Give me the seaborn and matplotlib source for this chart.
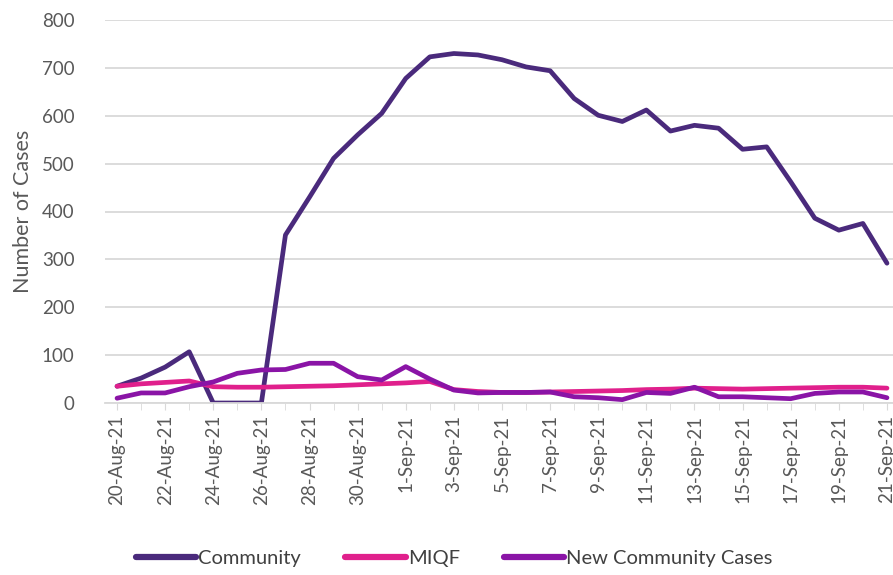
import pandas as pd
import numpy as np
import matplotlib.pyplot as plt
import seaborn as sns

sns.set_style("white")
plt.rcParams['font.family'] = ['Lato', 'DejaVu Sans']

# Data, one value per day 20-Aug-21 .. 21-Sep-21
dates = pd.date_range("2021-08-20", "2021-09-21", freq="D")
community = [35, 52, 75, 107, 0, 0, 0, 351, 430, 511, 560, 605, 678, 723, 730, 727,
             717, 702, 694, 636, 601, 588, 612, 568, 580, 574, 530, 535, 462, 386,
             361, 375, 292]
miqf = [35, 40, 43, 46, 34, 33, 33, 34, 35, 36, 38, 40, 42, 45, 28, 24,
        22, 22, 23, 24, 25, 26, 28, 29, 31, 30, 29, 30, 31, 32, 33, 33, 31]
new_community = [10, 21, 21, 34, 44, 62, 69, 70, 83, 83, 55, 48, 76, 50, 27, 21,
                 22, 22, 23, 13, 11, 7, 22, 20, 33, 13, 13, 11, 9, 20, 23, 23, 11]

series_names = ["Community", "MIQF", "New Community Cases"]
colors = ["#4a2a7c", "#e0208c", "#8a14a6"]

df = pd.DataFrame({
    "day": list(range(len(dates))) * 3,
    "cases": community + miqf + new_community,
    "series": [s for s in series_names for _ in range(len(dates))],
})

fig = plt.figure(figsize=(8.93, 5.75), dpi=100)
ax = fig.add_axes([105 / 893, 172 / 575, 794 / 893, 383 / 575])

sns.lineplot(data=df, x="day", y="cases", hue="series", palette=colors,
             linewidth=3.4, ax=ax)

ax.set_ylim(0, 800)
ax.set_xlim(-0.5, len(dates) - 0.5)
ax.set_yticks(range(0, 801, 100))
ax.yaxis.grid(True, color="#d9d9d9", linewidth=1.3)
ax.set_axisbelow(True)
for side in ["top", "right", "left"]:
    ax.spines[side].set_visible(False)
ax.spines["bottom"].set_color("#d9d9d9")
ax.spines["bottom"].set_linewidth(1.3)

ax.set_xticks(range(len(dates)), minor=True)
ax.set_xticks(range(0, len(dates), 2))
ax.set_xticklabels([f"{d.day}-{d.strftime('%b-%y')}" for d in dates[::2]],
                   rotation=90, fontsize=13.5, color="#595959")
ax.tick_params(axis="x", which="both", length=5, color="#d9d9d9", bottom=True)
ax.tick_params(axis="y", labelsize=13.5, labelcolor="#595959", length=0, pad=22)

ax.set_xlabel("")
ax.set_ylabel("Number of Cases", fontsize=15.5, color="#595959", labelpad=6)

handles, labels = ax.get_legend_handles_labels()
for h in handles:
    h.set_linewidth(4.5)
ax.legend(handles, labels, loc="lower center", bbox_to_anchor=(0.44, -0.475),
          ncol=3, frameon=False, fontsize=14.5, handlelength=3.0,
          handletextpad=0.1, columnspacing=2.2, labelcolor="#404040")

fig.savefig("out.png", dpi=100)
